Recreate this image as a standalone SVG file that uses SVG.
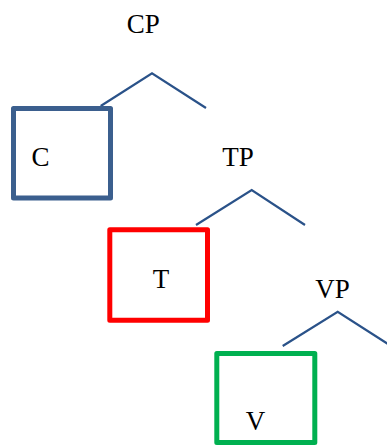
<svg xmlns="http://www.w3.org/2000/svg" width="387" height="446" viewBox="0 0 387 446">
<style>
.t{font-family:"Liberation Serif","DejaVu Serif",serif;font-size:27px;fill:#000;text-anchor:middle}
.br{fill:none;stroke:#2A5289;stroke-width:2.2;stroke-linejoin:miter}
.box{fill:none;stroke-width:5;stroke-linejoin:round}
</style>
<rect width="387" height="446" fill="#fff"/>
<g id="connectors">
<polyline class="br" points="100.7,106 152,73.3 206,108"/>
<polyline class="br" points="196,225 251.7,190 305,225"/>
<polyline class="br" points="282.7,346 337.7,311.7 388,344"/>
</g>
<g id="CP"><text class="t" x="143.3" y="33">CP</text></g>
<g id="C"><rect class="box" x="13.5" y="108.5" width="97" height="89.5" stroke="#3B5F8E"/><text class="t" x="40.5" y="166">C</text></g>
<g id="TP"><text class="t" x="238" y="166">TP</text></g>
<g id="T"><rect class="box" x="109.8" y="229.8" width="97.7" height="90.4" stroke="#FF0000"/><text class="t" x="161" y="288">T</text></g>
<g id="VP"><text class="t" x="332.4" y="298.3">VP</text></g>
<g id="V"><rect class="box" x="216.8" y="353.5" width="98" height="89" stroke="#00B050"/><text class="t" x="255.5" y="430">V</text></g>
</svg>
